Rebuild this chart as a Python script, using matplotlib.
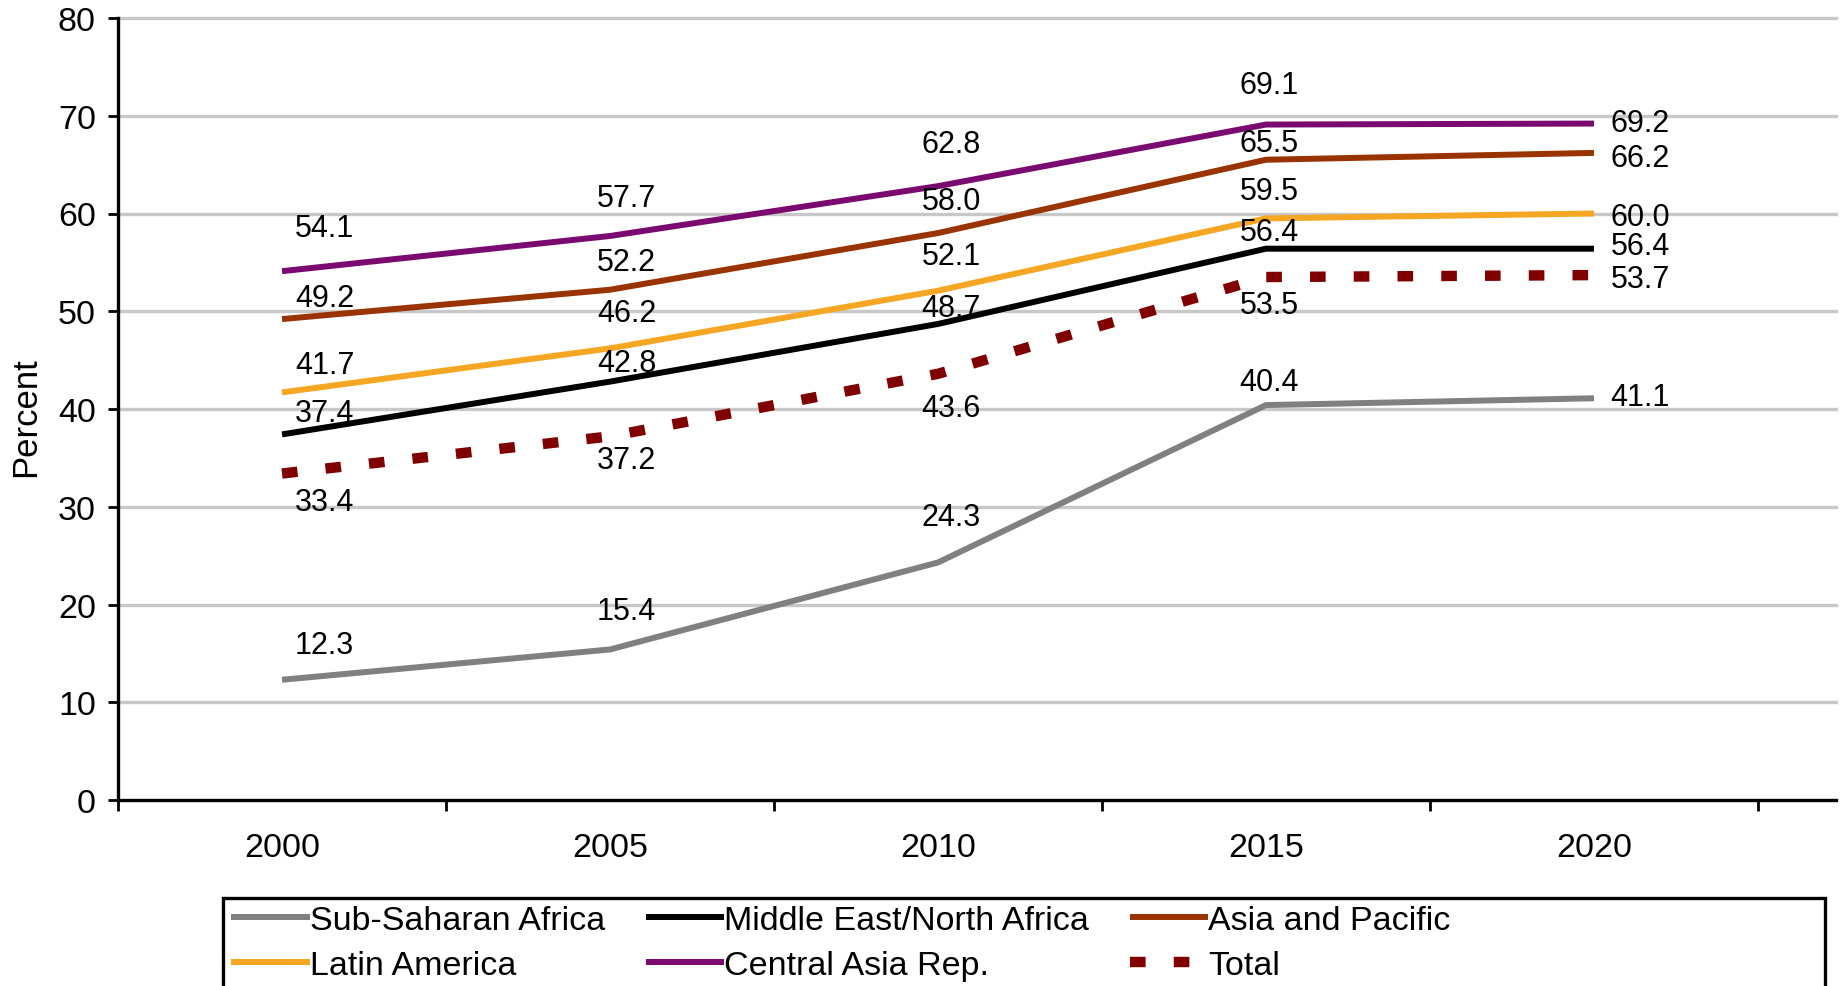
import matplotlib
matplotlib.use("Agg")
import matplotlib.pyplot as plt
from matplotlib.patches import Rectangle

plt.rcParams['font.family'] = ['Liberation Sans', 'DejaVu Sans']

# ---------------- data ----------------
years = ["2000", "2005", "2010", "2015", "2020"]
sub_saharan = [12.3, 15.4, 24.3, 40.4, 41.1]
mena = [37.4, 42.8, 48.7, 56.4, 56.4]
asia_pacific = [49.2, 52.2, 58.0, 65.5, 66.2]
latin_america = [41.7, 46.2, 52.1, 59.5, 60.0]
central_asia = [54.1, 57.7, 62.8, 69.1, 69.2]
total = [33.4, 37.2, 43.6, 53.5, 53.7]
series_names = ["Sub-Saharan Africa", "Middle East/North Africa", "Asia and Pacific",
                "Latin America", "Central Asia Rep.", "Total"]
y_ticks = [0, 10, 20, 30, 40, 50, 60, 70, 80]

# ---------------- styles / layout ----------------
colors = ["#808080", "#000000", "#993300", "#f5a623", "#7a0a70", "#800000"]
# vertical label offsets (data units) per series per year
label_dy = [
    [3.6, 3.9, 4.7, 2.4, 0.1],    # SSA
    [2.2, 1.9, 1.6, 1.7, 0.3],    # MENA
    [2.2, 2.8, 3.3, 1.7, -0.5],   # Asia
    [2.8, 3.6, 3.6, 2.8, -0.4],   # Latin
    [4.4, 3.9, 4.3, 4.0, 0.1],    # Central Asia
    [-2.9, -2.4, -3.5, -2.9, -0.4] # Total
]
label_dx = [0.13, 0.05, 0.04, 0.01, 0.05]

W, H = 1843, 987
fig = plt.figure(figsize=(W / 100, H / 100), dpi=100)
ax = fig.add_axes([118 / W, 1 - 801 / H, (1836 - 118) / W, (801 - 19) / H])

x = list(range(len(years)))
all_series = [sub_saharan, mena, asia_pacific, latin_america, central_asia, total]
handles = []
for i, (vals, name, col) in enumerate(zip(all_series, series_names, colors)):
    if name == "Total":
        h, = ax.plot(x, vals, color=col, lw=7.5, linestyle=(0, (1.5, 2.7)),
                     dash_capstyle='butt', solid_capstyle='butt', label=name, zorder=3)
    else:
        h, = ax.plot(x, vals, color=col, lw=4.3, solid_capstyle='butt', label=name,
                     zorder=3 + i * 0.1)
    handles.append(h)
    for j, v in enumerate(vals):
        ha = 'left' if j == len(vals) - 1 else 'center'
        ax.text(x[j] + label_dx[j], v + label_dy[i][j], f"{v:.1f}", fontsize=22,
                ha=ha, va='center', color='black', zorder=5)

ax.set_xlim(-0.5, (1836 - 118) / 328 - 0.5)
ax.set_ylim(0, 80)

# spines
for s in ['top', 'right']:
    ax.spines[s].set_visible(False)
for s in ['left', 'bottom']:
    ax.spines[s].set_linewidth(2.4)
    ax.spines[s].set_color('black')

# y ticks and grid
ax.set_yticks(y_ticks)
ax.set_yticklabels([str(t) for t in y_ticks], fontsize=24.5)
ax.tick_params(axis='y', direction='out', length=7, width=2, pad=9, colors='black')
for t in y_ticks[1:]:
    ax.axhline(t, color='#c8c8c8', lw=2.4, zorder=1, clip_on=False)

# x ticks: boundaries as major ticks, labels at centers (minor)
ax.set_xticks([k - 0.5 for k in range(len(years) + 1)])
ax.set_xticklabels([])
ax.set_xticks(x, minor=True)
ax.set_xticklabels(years, minor=True, fontsize=24.5)
ax.tick_params(axis='x', which='major', direction='out', length=8, width=2)
ax.tick_params(axis='x', which='minor', length=0, pad=23)

fig.text(26 / W, 1 - 417 / H, "Percent", rotation=90, fontsize=25,
         ha='center', va='center')

# legend (row-major order like reference)
order = [0, 3, 1, 4, 2, 5]
leg = fig.legend([handles[k] for k in order], [series_names[k] for k in order],
                 ncol=3, loc='upper left', bbox_to_anchor=(228 / W, 1 - 903 / H),
                 bbox_transform=fig.transFigure, frameon=False, fontsize=24.5,
                 handlelength=2.3, handletextpad=0.0, columnspacing=1.2,
                 borderpad=0.1, borderaxespad=0, labelspacing=0.4)
fig.patches.append(Rectangle((223 / W, -0.05), (1825 - 223) / W, (1 - 899 / H) + 0.05,
                             transform=fig.transFigure, fill=False, edgecolor='black',
                             lw=2.4))

fig.savefig("out.png", dpi=100)
